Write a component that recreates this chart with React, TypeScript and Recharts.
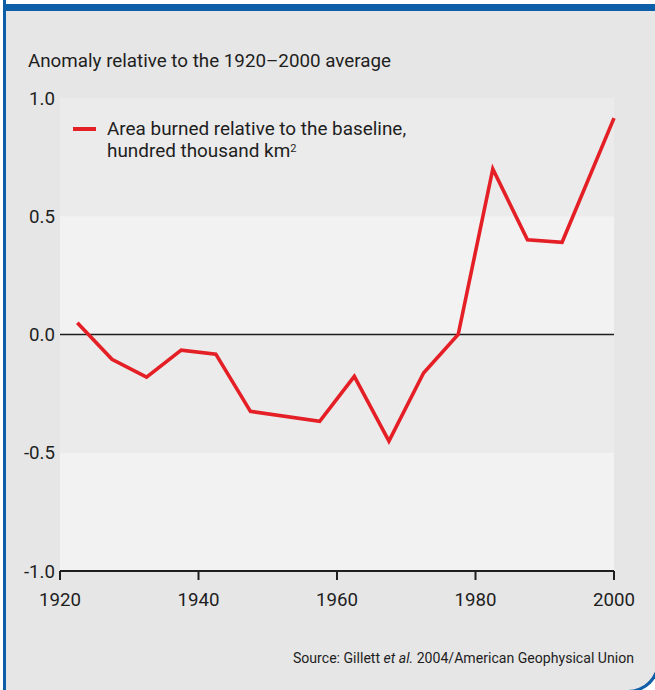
import React from "react";
import { LineChart, Line, XAxis, YAxis, ReferenceArea, ReferenceLine, Legend } from "recharts";

const years = [1922.5, 1927.5, 1932.5, 1937.5, 1942.5, 1947.5, 1957.5, 1962.5, 1967.5, 1972.5, 1977.5, 1982.5, 1987.5, 1992.5, 2000];
const areaBurned = [0.05, -0.105, -0.18, -0.066, -0.083, -0.325, -0.367, -0.177, -0.451, -0.163, 0.0, 0.7, 0.4, 0.39, 0.915];
const xTicks = [1920, 1940, 1960, 1980, 2000];
const yTicks = [-1, -0.5, 0, 0.5, 1];
const bands = [
  { from: 0.5, to: 1, shade: "dark" },
  { from: 0, to: 0.5, shade: "light" },
  { from: -0.5, to: 0, shade: "dark" },
  { from: -1, to: -0.5, shade: "light" },
];

const data = years.map((year, i) => ({ year, value: areaBurned[i] }));

const FONT = "Roboto, 'Liberation Sans', Arial, sans-serif";
const BLUE = "#0f5ea8";
const RED = "#e41f26";
const TEXT = "#1e1e1e";

const LegendContent = () => (
  <div style={{ display: "flex", alignItems: "flex-start", fontFamily: FONT, color: TEXT }}>
    <div style={{ width: 23, height: 4, background: RED, marginTop: 8, marginRight: 11 }} />
    <div style={{ fontSize: 18.9, lineHeight: "20px", whiteSpace: "nowrap" }}>
      <div>Area burned relative to the baseline,</div>
      <div>
        hundred thousand km<span style={{ fontSize: 11, verticalAlign: "5px" }}>2</span>
      </div>
    </div>
  </div>
);

export default function App() {
  return (
    <div
      style={{
        position: "absolute",
        left: 0,
        top: 0,
        width: 655,
        height: 690,
        background: "#ffffff",
        overflow: "hidden",
        fontFamily: FONT,
      }}
    >
      <div
        style={{
          position: "absolute",
          left: 3,
          top: 0,
          width: 657,
          height: 693,
          boxSizing: "border-box",
          background: "#e6e6e6",
          borderLeft: `3px solid ${BLUE}`,
          borderRight: `3px solid ${BLUE}`,
          borderBottom: `3px solid ${BLUE}`,
          borderBottomRightRadius: 32,
        }}
      />
      <div style={{ position: "absolute", left: 6, top: 0, width: 660, height: 4, background: "#ffffff" }} />
      <div style={{ position: "absolute", left: 3, top: 4, width: 660, height: 7, background: BLUE }} />
      <div
        style={{
          position: "absolute",
          left: 28,
          top: 51,
          fontSize: 18.8,
          lineHeight: "20px",
          color: TEXT,
          whiteSpace: "nowrap",
        }}
      >
        Anomaly relative to the 1920–2000 average
      </div>
      <div style={{ position: "absolute", left: 0, top: 0 }}>
        <LineChart width={655} height={690} data={data} margin={{ top: 98, right: 41, bottom: 89, left: 0 }}>
          {bands.map((b) => (
            <ReferenceArea
              key={b.from}
              y1={b.from}
              y2={b.to}
              fill={b.shade === "dark" ? "#ebebeb" : "#f2f2f2"}
              fillOpacity={1}
              stroke="none"
            />
          ))}
          <XAxis
            dataKey="year"
            type="number"
            domain={[1920, 2000]}
            ticks={xTicks}
            height={30}
            axisLine={{ stroke: "#1e1e1e", strokeWidth: 2 }}
            tickLine={{ stroke: "#1e1e1e", strokeWidth: 2 }}
            tickSize={9}
            tickMargin={13}
            tick={{ fill: TEXT, fontSize: 18.7, fontFamily: FONT }}
            interval={0}
          />
          <YAxis
            type="number"
            domain={[-1, 1]}
            ticks={yTicks}
            width={60}
            axisLine={false}
            tickLine={false}
            tickSize={0}
            tickMargin={5}
            tickFormatter={(v: number) => v.toFixed(1)}
            tick={{ fill: TEXT, fontSize: 18.7, fontFamily: FONT }}
            interval={0}
          />
          <ReferenceLine y={0} stroke="#1e1e1e" strokeWidth={1.6} />
          <Legend
            layout="vertical"
            align="center"
            verticalAlign="middle"
            wrapperStyle={{ position: "absolute", left: 73, top: 119, width: 400, height: 44 }}
            content={() => <LegendContent />}
          />
          <Line
            type="linear"
            dataKey="value"
            name="Area burned relative to the baseline, hundred thousand km²"
            stroke={RED}
            strokeWidth={3.6}
            dot={false}
            activeDot={false}
            isAnimationActive={false}
          />
        </LineChart>
      </div>
      <div
        style={{
          position: "absolute",
          right: 21,
          top: 649,
          fontSize: 14.1,
          lineHeight: "18px",
          color: TEXT,
          whiteSpace: "nowrap",
        }}
      >
        Source: Gillett <i>et al.</i> 2004/American Geophysical Union
      </div>
    </div>
  );
}
